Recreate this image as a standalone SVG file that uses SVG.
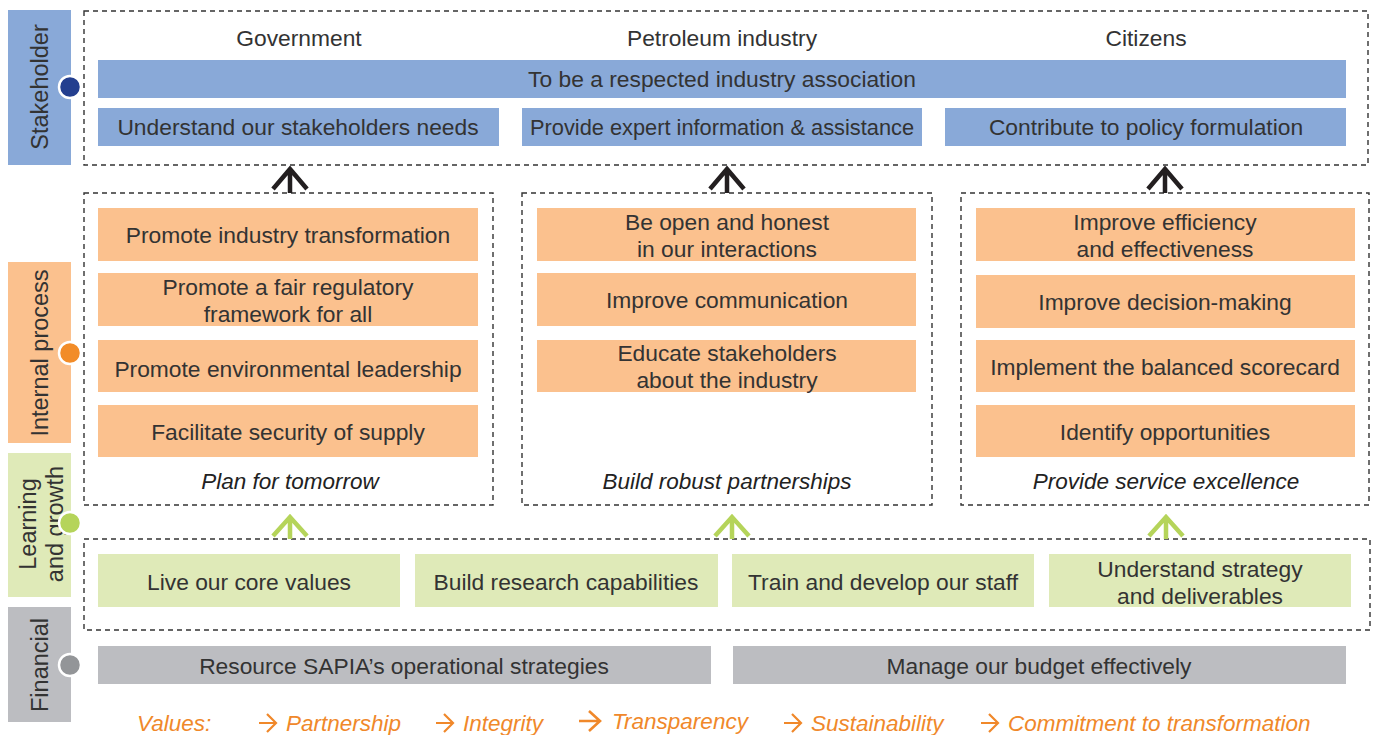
<svg xmlns="http://www.w3.org/2000/svg" width="1375" height="735" viewBox="0 0 1375 735">
<style>
text{font-family:"Liberation Sans",Arial,sans-serif;font-size:22.8px;fill:#333;text-anchor:middle}
.it{font-style:italic;font-size:22.5px;fill:#222}
.val{font-style:italic;font-size:22.5px;fill:#f0882a;text-anchor:start}
.dash{fill:none;stroke:#333;stroke-width:1.4;stroke-dasharray:5 4}
.blue{fill:#89a9d8}
.org{fill:#fbc18e}
.grn{fill:#dfeab8}
.gry{fill:#bcbdc1}
.side{font-size:23.5px}
.karr{fill:none;stroke:#231f20;stroke-width:4.5;stroke-linejoin:miter}
.garr{fill:none;stroke:#b5d45a;stroke-width:4.5;stroke-linejoin:miter}
.varr{fill:none;stroke:#f0882a;stroke-width:2.2;stroke-linejoin:miter}
.dot{stroke:#fff;stroke-width:2.5}
</style>

<g id="sidebar">
<rect x="8" y="10" width="63" height="155" class="blue"/>
<rect x="8" y="262" width="63" height="181" class="org"/>
<rect x="8" y="453" width="63" height="144" class="grn"/>
<rect x="8" y="607" width="63" height="115" class="gry"/>
<text class="side" transform="translate(48 87) rotate(-90)">Stakeholder</text>
<text class="side" transform="translate(48 353) rotate(-90)">Internal process</text>
<text class="side" transform="translate(36 524) rotate(-90)">Learning</text>
<text class="side" transform="translate(63 524) rotate(-90)">and growth</text>
<text class="side" transform="translate(48 665) rotate(-90)">Financial</text>
<circle cx="70" cy="87" r="11" fill="#243f8f" class="dot"/>
<circle cx="70" cy="353" r="11" fill="#f28c28" class="dot"/>
<circle cx="70" cy="523" r="11" fill="#b5d45a" class="dot"/>
<circle cx="70" cy="665" r="11" fill="#939598" class="dot"/>
</g>

<g id="stakeholder">
<rect x="84" y="11" width="1284" height="154" class="dash"/>
<text x="299" y="46">Government</text>
<text x="722" y="46">Petroleum industry</text>
<text x="1146" y="46">Citizens</text>
<rect x="98" y="60" width="1248" height="38" class="blue"/>
<text x="722" y="87">To be a respected industry association</text>
</g>
<g id="s1"><rect x="98" y="108" width="401" height="38" class="blue"/><text x="298" y="135">Understand our stakeholders needs</text></g>
<g id="s2"><rect x="522" y="108" width="400" height="38" class="blue"/><text x="722" y="135" style="font-size:21.8px">Provide expert information &amp; assistance</text></g>
<g id="s3"><rect x="945" y="108" width="401" height="38" class="blue"/><text x="1146" y="135">Contribute to policy formulation</text></g>

<g id="plan">
<rect x="84" y="193" width="409" height="312" class="dash"/>
<rect x="98" y="208" width="380" height="53" class="org"/><text x="288" y="243">Promote industry transformation</text>
<rect x="98" y="273" width="380" height="53" class="org"/><text x="288" y="295">Promote a fair regulatory</text><text x="288" y="322">framework for all</text>
<rect x="98" y="340" width="380" height="52" class="org"/><text x="288" y="377">Promote environmental leadership</text>
<rect x="98" y="405" width="380" height="52" class="org"/><text x="288" y="440">Facilitate security of supply</text>
<text class="it" x="290" y="489">Plan for tomorrow</text>
</g>

<g id="partner">
<rect x="522" y="193" width="410" height="312" class="dash"/>
<rect x="537" y="208" width="379" height="53" class="org"/><text x="727" y="230">Be open and honest</text><text x="727" y="257">in our interactions</text>
<rect x="537" y="273" width="379" height="53" class="org"/><text x="727" y="308">Improve communication</text>
<rect x="537" y="340" width="379" height="52" class="org"/><text x="727" y="361">Educate stakeholders</text><text x="727" y="388">about the industry</text>
<text class="it" x="727" y="489">Build robust partnerships</text>
</g>

<g id="service">
<rect x="961" y="193" width="408" height="312" class="dash"/>
<rect x="976" y="208" width="379" height="53" class="org"/><text x="1165" y="230">Improve efficiency</text><text x="1165" y="257">and effectiveness</text>
<rect x="976" y="275" width="379" height="53" class="org"/><text x="1165" y="310">Improve decision-making</text>
<rect x="976" y="340" width="379" height="52" class="org"/><text x="1165" y="375">Implement the balanced scorecard</text>
<rect x="976" y="405" width="379" height="52" class="org"/><text x="1165" y="440">Identify opportunities</text>
<text class="it" x="1166" y="489">Provide service excellence</text>
</g>

<g id="learning">
<rect x="84" y="539" width="1286" height="91" class="dash"/>
<rect x="98" y="554" width="302" height="53" class="grn"/><text x="249" y="590">Live our core values</text>
<rect x="415" y="554" width="303" height="53" class="grn"/><text x="566" y="590">Build research capabilities</text>
<rect x="732" y="554" width="302" height="53" class="grn"/><text x="883" y="590">Train and develop our staff</text>
<rect x="1049" y="554" width="302" height="53" class="grn"/><text x="1200" y="577">Understand strategy</text><text x="1200" y="604">and deliverables</text>
</g>

<g id="financial">
<rect x="98" y="646" width="613" height="38" class="gry"/><text x="404" y="674">Resource SAPIA’s operational strategies</text>
<rect x="733" y="646" width="613" height="38" class="gry"/><text x="1039" y="674">Manage our budget effectively</text>
</g>

<g id="connectors">
<path class="karr" d="M273 189 L290 169 L307 189 M290 168 V193"/>
<path class="karr" d="M710 189 L727 169 L744 189 M727 168 V193"/>
<path class="karr" d="M1148 189 L1165 169 L1182 189 M1165 168 V193"/>
<path class="garr" d="M273 536 L290 517 L307 536 M290 516 V539"/>
<path class="garr" d="M715 536 L732 517 L749 536 M732 516 V539"/>
<path class="garr" d="M1149 536 L1166 517 L1183 536 M1166 516 V539"/>
</g>

<g id="values">
<text class="val" x="137" y="731">Values:</text>
<path class="varr" d="M259 723 H275 M267 714 L276 723 L267 732"/>
<text class="val" x="286" y="731">Partnership</text>
<path class="varr" d="M436 723 H452 M444 714 L453 723 L444 732"/>
<text class="val" x="463" y="731">Integrity</text>
<path class="varr" d="M579 721 H599 M589 711 L600 721 L589 731" style="stroke-width:2.6"/>
<text class="val" x="612" y="729">Transparency</text>
<path class="varr" d="M784 723 H800 M792 714 L801 723 L792 732"/>
<text class="val" x="811" y="731">Sustainability</text>
<path class="varr" d="M981 723 H997 M989 714 L998 723 L989 732"/>
<text class="val" x="1008" y="731">Commitment to transformation</text>
</g>
</svg>
